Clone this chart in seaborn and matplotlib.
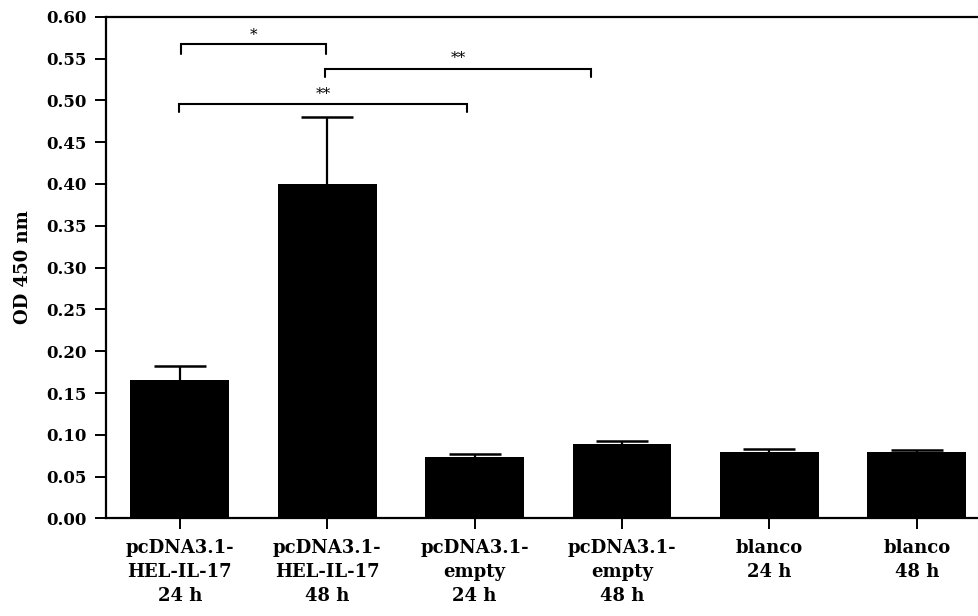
import matplotlib
matplotlib.use("Agg")
import matplotlib.pyplot as plt
import seaborn as sns
import numpy as np
import pandas as pd

categories = ["pcDNA3.1-\nHEL-IL-17\n24 h", "pcDNA3.1-\nHEL-IL-17\n48 h",
              "pcDNA3.1-\nempty\n24 h", "pcDNA3.1-\nempty\n48 h",
              "blanco\n24 h", "blanco\n48 h"]
means = [0.166, 0.400, 0.074, 0.089, 0.080, 0.080]
errors = [0.016, 0.080, 0.003, 0.004, 0.0025, 0.0015]
yticks = [0.00, 0.05, 0.10, 0.15, 0.20, 0.25, 0.30, 0.35, 0.40, 0.45, 0.50, 0.55, 0.60]
# significance brackets: (x_start, x_end, y_line, leg_bottom, label_y, label)
brackets = [
    (0.01, 0.99, 0.5676, 0.5556, 0.5693, "*"),
    (0.985, 2.79, 0.538, 0.528, 0.5418, "**"),
    (-0.005, 1.95, 0.496, 0.4866, 0.499, "**"),
]

sns.set_theme(style="white")
plt.rcParams["font.family"] = ["DejaVu Serif"]
plt.rcParams["font.weight"] = "bold"

fig = plt.figure(figsize=(9.79, 6.16), dpi=100)
ax = fig.add_axes([0.1083, 0.1583, 1.0118 - 0.1083, 0.9729 - 0.1583])

df = pd.DataFrame({"group": categories, "od": means})
sns.barplot(data=df, x="group", y="od", color="black", saturation=1,
            width=0.67, ax=ax, errorbar=None, linewidth=0)

xs = np.arange(len(categories))
eb = ax.errorbar(xs, means, yerr=[np.zeros(len(errors)), errors], fmt="none",
                 ecolor="black", elinewidth=1.6, capsize=18.5, capthick=1.8, zorder=5)
caplines = eb[1]
if len(caplines) > 1:
    caplines[0].set_visible(False)

for x0, x1, yl, yb, ty, lab in brackets:
    ax.plot([x0, x0, x1, x1], [yb, yl, yl, yb], color="black", lw=1.5,
            solid_joinstyle="miter", clip_on=False, zorder=6)
    ax.text((x0 + x1) / 2, ty, lab, ha="center", va="bottom", fontsize=11,
            fontweight="normal", color="black")

ax.set_xlim(-0.5, 5.5)
ax.set_ylim(0, 0.6)
ax.set_yticks(yticks)
ax.set_yticklabels([f"{v:.2f}" for v in yticks])
ax.set_xlabel("")
ax.set_ylabel("OD 450 nm", fontsize=13, fontweight="bold", labelpad=10, color="black")

for s in ["left", "bottom", "top", "right"]:
    ax.spines[s].set_color("black")
    ax.spines[s].set_linewidth(1.6)
ax.tick_params(axis="both", which="both", direction="out", length=8, width=1.4,
               color="black", labelsize=12, left=True, bottom=True)
ax.tick_params(axis="y", pad=6)
ax.tick_params(axis="x", pad=7, labelsize=13)
for lab in ax.get_xticklabels() + ax.get_yticklabels():
    lab.set_fontweight("bold")
    lab.set_color("black")
for lab in ax.get_xticklabels():
    lab.set_linespacing(1.42)

fig.savefig("out.png", dpi=100)
